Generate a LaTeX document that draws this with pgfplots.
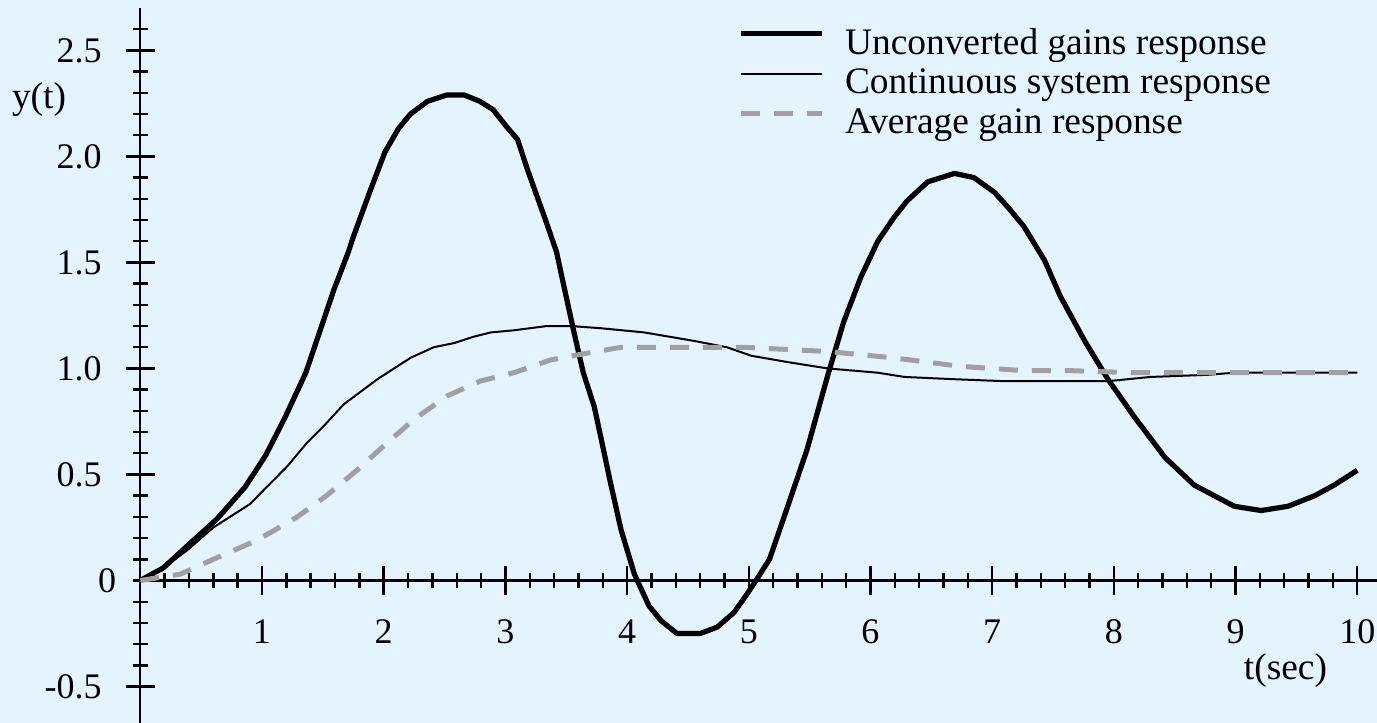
\documentclass[border=0pt]{standalone}
\usepackage{pgfplots}
\pgfplotsset{compat=1.18}
\usepackage{fontspec}
\setmainfont{Liberation Serif}
\definecolor{bg}{RGB}{227,243,255}
\definecolor{dgray}{RGB}{160,160,160}
\begin{document}
\begin{tikzpicture}
\fill[bg] (-70.15pt,0) rectangle (618.35pt,361.5pt);
\begin{axis}[
  at={(0,0)}, anchor=south west,
  scale only axis, width=618.35pt, height=357.5pt,
  xmin=0, xmax=10.162, ymin=-0.672, ymax=2.70,
  axis lines=middle,
  axis line style={-, line width=1.2pt},
  clip=false,
  font=\fontsize{18pt}{21pt}\selectfont,
  /pgf/number format/assume math mode=true,
  xtick={1,2,3,4,5,6,7,8,9,10},
  minor xtick={0,0.2,...,10},
  ytick={-0.5,0.5,1.0,1.5,2.0,2.5},
  yticklabels={-0.5,0.5,1.0,1.5,2.0,2.5},
  minor ytick={-0.4,-0.3,...,2.61},
  extra y ticks={0}, extra y tick labels={0},
  extra y tick style={major tick length=0pt},
  tick align=center,
  major tick length=14.5pt, minor tick length=7.7pt,
  every tick/.style={line width=1.2pt, black},
  xticklabel style={anchor=base, yshift=-24pt},
  yticklabel style={anchor=east, xshift=-8.5pt},
  legend style={at={(axis cs:4.915,2.607)}, anchor=north west, draw=none, fill=none,
    font=\fontsize{18.7pt}{21pt}\selectfont, row sep=6pt, inner sep=0pt,
    nodes={inner sep=0pt},
    /tikz/every odd column/.append style={column sep=10pt}},
  legend cell align=left,
  legend image code/.code={\draw[#1] (0pt,4.5pt) -- (40.5pt,4.5pt);},
]
\addplot[black, line width=2.6pt, line join=round] coordinates {
(0,0) (0.19,0.06) (0.38,0.16) (0.63,0.29) (0.86,0.44) (1.03,0.59) (1.19,0.77)
(1.36,0.98) (1.49,1.20) (1.59,1.37) (1.71,1.55) (1.75,1.62) (1.89,1.84) (2.01,2.02)
(2.12,2.13) (2.22,2.20) (2.36,2.26) (2.52,2.29) (2.66,2.29) (2.79,2.26) (2.90,2.22)
(3.01,2.14) (3.10,2.08) (3.18,1.94) (3.33,1.70) (3.42,1.55) (3.48,1.39) (3.56,1.18)
(3.64,0.98) (3.73,0.82) (3.79,0.66) (3.86,0.47) (3.95,0.24) (4.06,0.03) (4.18,-0.12)
(4.28,-0.19) (4.41,-0.25) (4.60,-0.25) (4.74,-0.22) (4.88,-0.15) (4.99,-0.06)
(5.07,0.01) (5.17,0.10) (5.32,0.35) (5.48,0.62) (5.65,0.97) (5.78,1.22) (5.92,1.43)
(6.06,1.60) (6.19,1.71) (6.30,1.79) (6.47,1.88) (6.69,1.92) (6.85,1.90) (7.02,1.83)
(7.13,1.76) (7.26,1.67) (7.43,1.51) (7.56,1.34) (7.76,1.13) (7.95,0.95) (8.17,0.77)
(8.42,0.58) (8.66,0.45) (8.99,0.35) (9.21,0.33) (9.43,0.35) (9.65,0.40) (9.81,0.45)
(10.0,0.52)};
\addlegendentry{Unconverted gains response}
\addplot[black, line width=1pt, line join=round] coordinates {
(0,0) (0.19,0.06) (0.38,0.14) (0.60,0.25) (0.90,0.36) (1.21,0.54) (1.37,0.65)
(1.51,0.73) (1.67,0.83) (1.95,0.95) (2.22,1.05) (2.41,1.10) (2.58,1.12) (2.74,1.15)
(2.88,1.17) (3.07,1.18) (3.34,1.20) (3.54,1.20) (3.78,1.19) (4.14,1.17) (4.55,1.13)
(4.82,1.10) (5.02,1.06) (5.32,1.03) (5.65,1.00) (6.06,0.98) (6.28,0.96) (6.66,0.95)
(7.10,0.94) (7.56,0.94) (7.95,0.94) (8.30,0.96) (8.77,0.97) (8.99,0.98) (10.0,0.98)};
\addlegendentry{Continuous system response}
\addplot[dgray, line width=2.5pt, dash pattern=on 9.5pt off 7pt] coordinates {
(0,0) (0.33,0.03) (0.60,0.10) (0.96,0.19) (1.29,0.30) (1.53,0.40) (1.78,0.52)
(2.03,0.65) (2.25,0.76) (2.52,0.87) (2.79,0.94) (3.07,0.98) (3.37,1.04) (3.65,1.07)
(3.95,1.10) (4.55,1.10) (4.96,1.10) (5.65,1.08) (6.19,1.05) (6.74,1.01) (7.25,0.99)
(7.62,0.99) (8.17,0.98) (10.0,0.98)};
\addlegendentry{Average gain response}
\node[anchor=base, font=\fontsize{18.7pt}{21pt}\selectfont] at (axis cs:-0.832,2.227) {y(t)};
\node[anchor=base, font=\fontsize{18.7pt}{21pt}\selectfont] at (axis cs:9.41,-0.469) {t(sec)};
\end{axis}
\pgfresetboundingbox
\path (-70.15pt,0) rectangle (618.35pt,361.5pt);
\end{tikzpicture}
\end{document}
